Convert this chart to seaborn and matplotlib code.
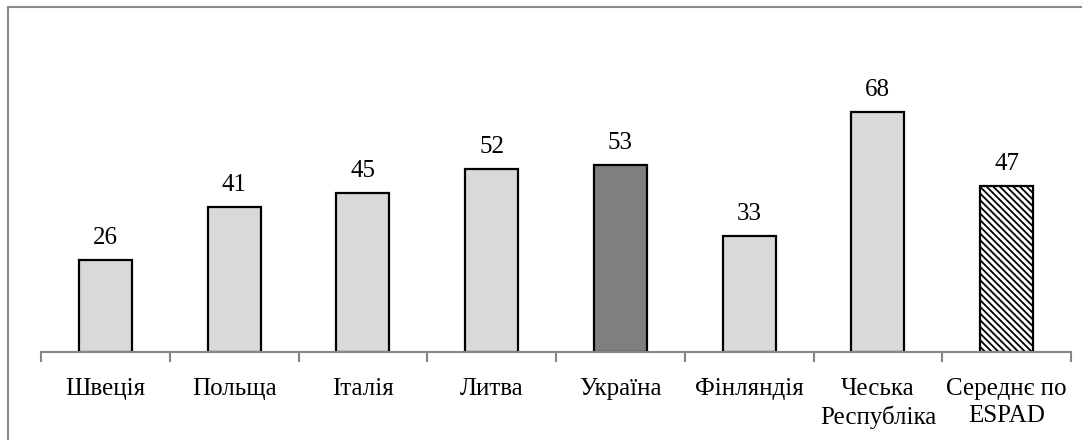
import matplotlib
matplotlib.use("Agg")
import matplotlib.pyplot as plt
import seaborn as sns
import pandas as pd
import numpy as np
from matplotlib.patches import Rectangle

categories = ["Швеція", "Польща", "Італія", "Литва", "Україна", "Фінляндія",
              "Чеська\nРеспубліка", "Середнє по\nESPAD"]
values = [26, 41, 45, 52, 53, 33, 68, 47]
bar_colors = ["#d9d9d9", "#d9d9d9", "#d9d9d9", "#d9d9d9", "#7f7f7f", "#d9d9d9", "#d9d9d9", "#ffffff"]

sns.set_style("white")
plt.rcParams['font.family'] = ['Liberation Serif', 'DejaVu Serif']
plt.rcParams['hatch.linewidth'] = 1.3
plt.rcParams['hatch.color'] = '#333333'
plt.rcParams['text.color'] = 'black'
plt.rcParams['xtick.color'] = 'black'

df = pd.DataFrame({"country": categories, "value": values})

fig = plt.figure(figsize=(10.82, 4.4), dpi=100)
ax = fig.add_axes([41 / 1082, 88 / 440, 1030 / 1082, 282 / 440])

sns.barplot(data=df, x="country", y="value", hue="country", palette=bar_colors,
            legend=False, width=0.41, edgecolor="black", linewidth=1.6, ax=ax,
            saturation=1)

# hatch for the ESPAD average bar
last = ax.patches[-1]
last.set_hatch("\\\\\\\\\\")

for p, v in zip(ax.patches, values):
    ax.annotate(str(v), (p.get_x() + p.get_width() / 2, p.get_height()),
                xytext=(0, 8), textcoords="offset points",
                ha="center", va="bottom", fontsize=18, color="black")

ax.set_ylim(0, 80)
ax.set_xlim(-0.5, len(categories) - 0.5)
ax.set_yticks([])
ax.set_xlabel("")
ax.set_ylabel("")
for s in ["top", "right", "left"]:
    ax.spines[s].set_visible(False)
ax.spines["bottom"].set_color("#868686")
ax.spines["bottom"].set_linewidth(1.5)

ax.set_xticks(np.arange(-0.5, len(categories), 1.0))
ax.set_xticklabels([])
ax.tick_params(axis="x", which="major", bottom=True, direction="out", length=7,
               width=1.5, color="#868686")
ax.set_xticks(np.arange(len(categories)), minor=True)
ax.set_xticklabels(categories, minor=True, fontsize=18, linespacing=1.3, color="black")
ax.tick_params(axis="x", which="minor", bottom=True, length=0, pad=19)

# outer chart border
fig.patches.append(Rectangle((8 / 1082, -0.1), 1.2, (440 - 7) / 440 + 0.1,
                             transform=fig.transFigure, fill=False,
                             edgecolor="#898989", linewidth=1.5))

fig.savefig("out.png", dpi=100)
